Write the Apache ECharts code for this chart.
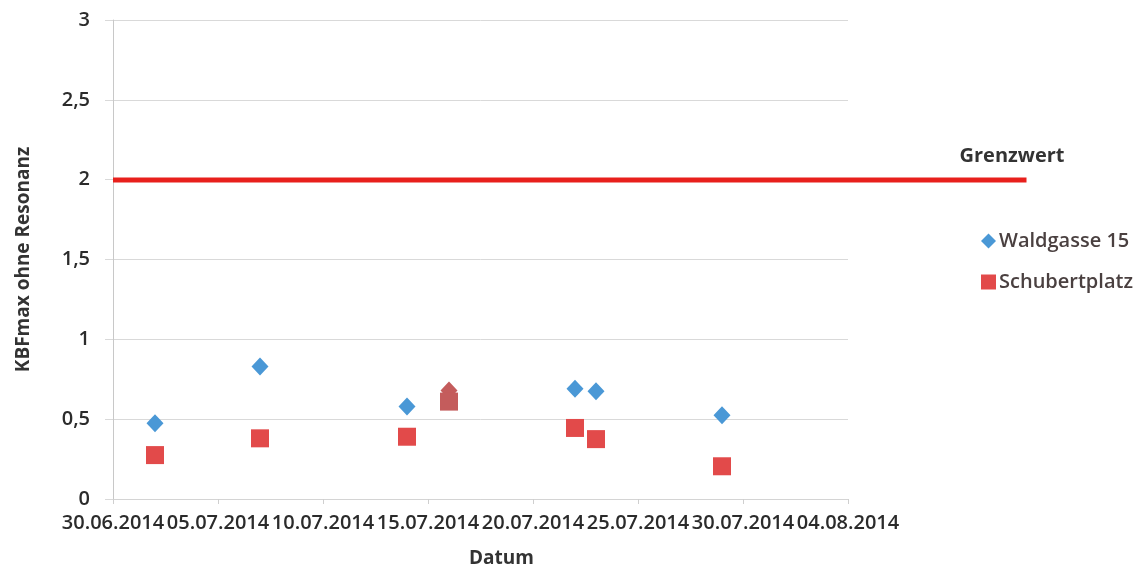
<!DOCTYPE html>
<html>
<head>
<meta charset="utf-8">
<script src="https://cdn.jsdelivr.net/npm/echarts@6/dist/echarts.min.js"></script>
<style>
html,body{margin:0;padding:0;background:#fff;}
#chart{width:1148px;height:573px;}
</style>
</head>
<body>
<div id="chart"></div>
<script>
// ---- data ----
const baseDate = '30.06.2014';
const axisEndDate = '04.08.2014';
const xTickStepDays = 5;
const yTicks = [0, 0.5, 1, 1.5, 2, 2.5, 3];

const waldDates  = ['02.07.2014','07.07.2014','14.07.2014','16.07.2014','22.07.2014','23.07.2014','29.07.2014'];
const waldValues = [0.475, 0.83, 0.58, 0.68, 0.69, 0.675, 0.525];

const schubDates  = ['02.07.2014','07.07.2014','14.07.2014','16.07.2014','22.07.2014','23.07.2014','29.07.2014'];
const schubValues = [0.275, 0.38, 0.39, 0.61, 0.445, 0.375, 0.205];

const overlapDate = '16.07.2014';

const grenzwert = 2;
const grenzwertStartDate = '30.06.2014';
const grenzwertEndDate = '13.08.2014';

// ---- helpers ----
function parseDate(s){ const [d,m,y] = s.split('.').map(Number); return Date.UTC(y, m-1, d); }
const DAY = 86400000;
const base = parseDate(baseDate);
function toDay(s){ return (parseDate(s) - base) / DAY; }
function fmtDay(v){
  const dt = new Date(base + Math.round(v) * DAY);
  const dd = String(dt.getUTCDate()).padStart(2,'0');
  const mm = String(dt.getUTCMonth()+1).padStart(2,'0');
  return dd + '.' + mm + '.' + dt.getUTCFullYear();
}
const fontFam = '"Open Sans", "DejaVu Sans", sans-serif';
const blue = '#4a98d6', red = '#e24a4a', mixed = '#c45c5c';
const overlapDay = toDay(overlapDate);

const W = 1148, gridLeft = 113, gridRight = 300;
const dayPx = (W - gridLeft - gridRight) / toDay(axisEndDate);
const lineEndDay = toDay(grenzwertEndDate) - 0.5;
const lineGridRight = W - gridLeft - lineEndDay * dayPx;

const chart = echarts.init(document.getElementById('chart'));
chart.setOption({
  backgroundColor: '#ffffff',
  animation: false,
  textStyle: { fontFamily: fontFam },
  grid: [
    { left: gridLeft, right: gridRight, top: 20, bottom: 73, containLabel: false },
    { left: gridLeft, right: lineGridRight, top: 20, bottom: 73, containLabel: false }
  ],
  xAxis: [{
    type: 'value',
    gridIndex: 0,
    min: 0,
    max: toDay(axisEndDate),
    interval: xTickStepDays,
    name: 'Datum',
    nameLocation: 'middle',
    nameGap: 50,
    nameTextStyle: { fontFamily: fontFam, fontSize: 19, fontWeight: 'bold', color: '#333', padding: [0,0,0,42] },
    axisLine: { show: true, lineStyle: { color: '#d4d4d4', width: 1 } },
    axisTick: { show: true, length: 5, lineStyle: { color: '#cfcfcf' } },
    axisLabel: { fontFamily: fontFam, fontSize: 20, fontWeight: 600, color: '#2b2b2b', margin: 14, formatter: v => fmtDay(v) },
    splitLine: { show: false }
  }, {
    type: 'value',
    gridIndex: 1,
    min: 0,
    max: lineEndDay,
    show: false
  }],
  yAxis: [{
    type: 'value',
    gridIndex: 0,
    min: yTicks[0],
    max: yTicks[yTicks.length-1],
    interval: 0.5,
    name: 'KBFmax ohne Resonanz',
    nameLocation: 'middle',
    nameGap: 80,
    nameRotate: 90,
    nameTextStyle: { fontFamily: fontFam, fontSize: 19, fontWeight: 'bold', color: '#333' },
    axisLine: { show: true, lineStyle: { color: '#c8c8c8', width: 1 } },
    axisTick: { show: true, length: 8, lineStyle: { color: '#d9d9d9' } },
    axisLabel: { fontFamily: fontFam, fontSize: 20, fontWeight: 600, color: '#2b2b2b', margin: 23,
      formatter: v => String(v).replace('.', ',') },
    splitLine: { show: true, lineStyle: { color: '#d9d9d9', width: 1 } }
  }, {
    type: 'value',
    gridIndex: 1,
    min: yTicks[0],
    max: yTicks[yTicks.length-1],
    show: false
  }],
  legend: {
    orient: 'vertical',
    left: 976,
    top: 226,
    itemGap: 21,
    itemWidth: 15,
    itemHeight: 15,
    textStyle: { fontFamily: fontFam, fontSize: 20, fontWeight: 600, color: '#4a4040', padding: [0,0,0,-2] },
    data: [
      { name: 'Waldgasse 15', icon: 'diamond', itemStyle: { color: blue } },
      { name: 'Schubertplatz', icon: 'rect', itemStyle: { color: red } }
    ]
  },
  series: [
    {
      name: 'Grenzwert',
      type: 'line',
      xAxisIndex: 1,
      yAxisIndex: 1,
      symbol: 'none',
      silent: true,
      lineStyle: { color: '#e8201c', width: 5 },
      endLabel: { show: true, formatter: 'Grenzwert', fontFamily: fontFam, fontSize: 20, fontWeight: 'bold',
        color: '#333', offset: [-75, -24] },
      data: [
        [toDay(grenzwertStartDate), grenzwert],
        [lineEndDay, grenzwert]
      ],
      z: 1
    },
    {
      name: 'Waldgasse 15',
      type: 'scatter',
      symbol: 'diamond',
      symbolSize: [17, 18],
      color: blue,
      itemStyle: { opacity: 1, color: p => (p.value[0] === overlapDay ? mixed : blue) },
      data: waldDates.map((d, i) => [toDay(d), waldValues[i]]),
      z: 3
    },
    {
      name: 'Schubertplatz',
      type: 'scatter',
      symbol: 'rect',
      symbolSize: 18,
      color: red,
      itemStyle: { opacity: 1, color: p => (p.value[0] === overlapDay ? mixed : red) },
      data: schubDates.map((d, i) => [toDay(d), schubValues[i]]),
      z: 4
    }
  ]
});
</script>
</body>
</html>
